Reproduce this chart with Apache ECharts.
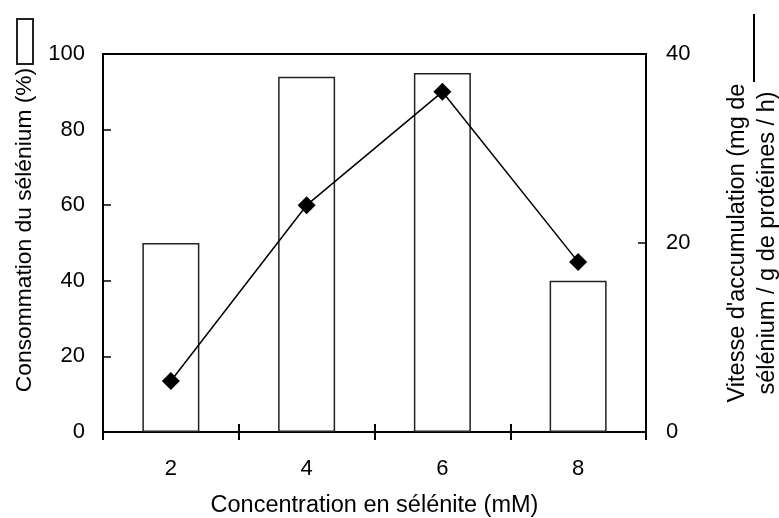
<!DOCTYPE html>
<html>
<head>
<meta charset="utf-8">
<script src="https://cdn.jsdelivr.net/npm/echarts@6/dist/echarts.min.js"></script>
<style>
  html, body { margin: 0; padding: 0; background: #fff; }
  #main { width: 779px; height: 518px; }
</style>
</head>
<body>
<div id="main"></div>
<script>
// données
var concentrations = ['2', '4', '6', '8'];
var consommation = [50, 94, 95, 40];      // % (barres, axe gauche)
var vitesse = [5.4, 24, 36, 18];          // mg Se / g prot / h (courbe, axe droit)

var police = 'Liberation Sans, Arial, sans-serif';
var tailleGrad = 22;   // graduations
var tailleTitre = 23.5; // titres d'axes

var myChart = echarts.init(document.getElementById('main'));

var option = {
  backgroundColor: '#fff',
  animation: false,
  textStyle: { fontFamily: police, color: '#000' },
  grid: {
    left: 103, right: 133, top: 54, bottom: 86,
    outerBoundsMode: 'none',
    containLabel: false,
    show: true, borderColor: '#000', borderWidth: 2, backgroundColor: 'transparent'
  },
  legend: [
    {
      left: 16, top: 18, padding: 0, orient: 'vertical',
      itemWidth: 16, itemHeight: 45,
      icon: 'rect', formatter: function () { return ''; },
      data: ['Consommation du sélénium (%)'],
      selectedMode: false
    },
    {
      left: 753, top: 14, padding: 0, orient: 'vertical',
      itemWidth: 2, itemHeight: 68,
      icon: 'rect', formatter: function () { return ''; },
      data: ["Vitesse d'accumulation"],
      selectedMode: false
    }
  ],
  xAxis: [
    {
      type: 'category',
      data: concentrations,
      name: 'Concentration en sélénite (mM)',
      nameLocation: 'middle',
      nameGap: 62,
      nameTextStyle: { fontSize: tailleTitre, color: '#000' },
      axisLine: { lineStyle: { color: '#000', width: 2 } },
      axisTick: { show: true, inside: false, length: 8, lineStyle: { color: '#000', width: 2 } },
      axisLabel: { fontSize: tailleGrad, color: '#000', margin: 26 },
      splitLine: { show: false }
    },
    {
      // graduations intérieures (les tirets traversent l'axe)
      type: 'category',
      data: concentrations,
      position: 'bottom',
      axisLine: { show: false },
      axisTick: { show: true, inside: true, length: 8, lineStyle: { color: '#000', width: 2 } },
      axisLabel: { show: false },
      splitLine: { show: false }
    }
  ],
  yAxis: [
    {
      type: 'value',
      min: 0, max: 100, interval: 20,
      name: 'Consommation du sélénium (%)',
      nameLocation: 'middle',
      nameGap: 67,
      nameTextStyle: { fontSize: 22.8, color: '#000', padding: [0, 0, 0, 26] },
      axisLine: { show: true, lineStyle: { color: '#000', width: 2 } },
      axisTick: { show: true, inside: true, length: 8, lineStyle: { color: '#000', width: 1.5 } },
      axisLabel: { fontSize: tailleGrad, color: '#000', margin: 18 },
      splitLine: { show: false }
    },
    {
      type: 'value',
      min: 0, max: 40, interval: 20,
      position: 'right',
      name: "Vitesse d'accumulation (mg de\nsélénium / g de protéines / h)",
      nameLocation: 'middle',
      nameGap: 77,
      nameTextStyle: { fontSize: tailleTitre, color: '#000', lineHeight: 30 },
      axisLine: { show: true, lineStyle: { color: '#000', width: 2 } },
      axisTick: { show: true, inside: true, length: 8, lineStyle: { color: '#000', width: 1.5 } },
      axisLabel: { fontSize: tailleGrad, color: '#000', margin: 20 },
      splitLine: { show: false }
    }
  ],
  series: [
    {
      name: 'Consommation du sélénium (%)',
      type: 'bar',
      xAxisIndex: 0,
      yAxisIndex: 0,
      data: consommation,
      barWidth: 57,
      itemStyle: { color: '#fff', borderColor: '#222', borderWidth: 1.5 },
      z: 2
    },
    {
      name: "Vitesse d'accumulation",
      type: 'line',
      xAxisIndex: 0,
      yAxisIndex: 1,
      data: vitesse,
      symbol: 'diamond',
      symbolSize: 18,
      lineStyle: { color: '#000', width: 1.5 },
      itemStyle: { color: '#000' },
      z: 3
    }
  ]
};

myChart.setOption(option);
</script>
</body>
</html>
